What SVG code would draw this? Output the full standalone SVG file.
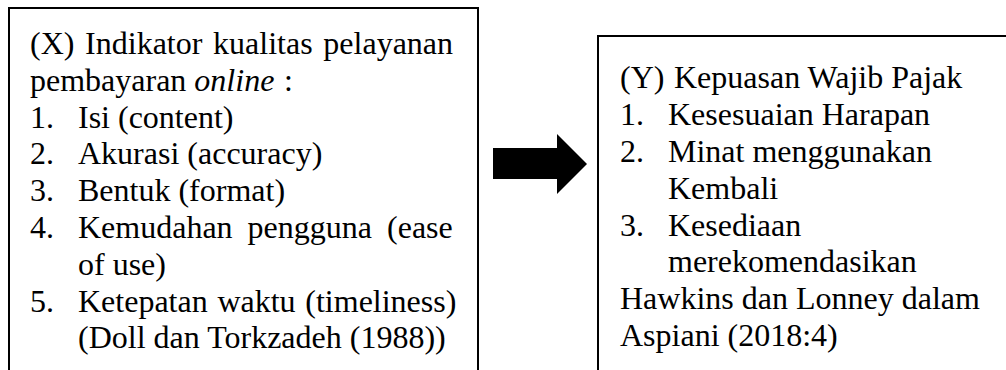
<svg xmlns="http://www.w3.org/2000/svg" width="1006" height="370" viewBox="0 0 1006 370">
<style>
.box{fill:#fff;stroke:#000;stroke-width:2}
text{font-family:"Liberation Serif","Times New Roman",serif;font-size:32px;fill:#000}
.it{font-style:italic}
</style>
<rect width="1006" height="370" fill="#fff"/>
<g id="nodeX">
<rect class="box" x="9" y="8" width="469" height="420"/>
<text x="30" y="54" word-spacing="2.7">(X) Indikator kualitas pelayanan</text>
<text x="30" y="90.8">pembayaran <tspan class="it">online</tspan></text>
<text x="284" y="90.8">:</text>
<text x="30" y="127.6">1.</text><text x="78" y="127.6">Isi (content)</text>
<text x="30" y="164.4">2.</text><text x="78" y="164.4">Akurasi (accuracy)</text>
<text x="30" y="201.2">3.</text><text x="78" y="201.2">Bentuk (format)</text>
<text x="30" y="238">4.</text><text x="78" y="238" word-spacing="7">Kemudahan pengguna (ease</text>
<text x="78" y="274.8">of use)</text>
<text x="30" y="311.6">5.</text><text x="78" y="311.6" word-spacing="1.7">Ketepatan waktu (timeliness)</text>
<text x="78" y="348.4">(Doll dan Torkzadeh (1988))</text>
</g>
<g id="nodeY">
<rect class="box" x="598" y="36" width="500" height="420"/>
<text x="620" y="88.4">(Y)</text><text x="674" y="88.4">Kepuasan Wajib Pajak</text>
<text x="620" y="125.2">1.</text><text x="668" y="125.2">Kesesuaian Harapan</text>
<text x="620" y="162">2.</text><text x="668" y="162">Minat menggunakan</text>
<text x="668" y="198.8">Kembali</text>
<text x="620" y="235.6">3.</text><text x="668" y="235.6">Kesediaan</text>
<text x="668" y="272.4">merekomendasikan</text>
<text x="620" y="309.2">Hawkins dan Lonney dalam</text>
<text x="620" y="346">Aspiani (2018:4)</text>
</g>
<g id="connectors">
<polygon points="493,148 557,148 557,134 587,164 557,194 557,179 493,179" fill="#000"/>
</g>
</svg>
